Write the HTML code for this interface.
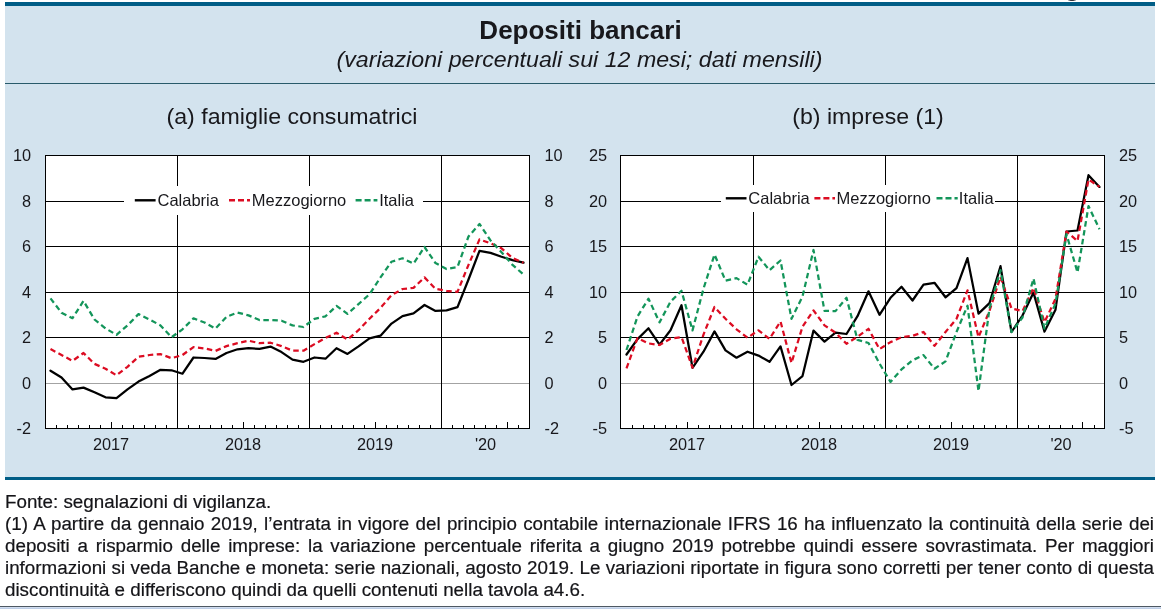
<!DOCTYPE html>
<html><head><meta charset="utf-8"><title>Depositi bancari</title>
<style>
html,body{margin:0;padding:0;background:#fff;}
body{width:1161px;height:609px;position:relative;overflow:hidden;font-family:'Liberation Sans', Arial, sans-serif;color:#18181c;}
#panel{position:absolute;left:5px;top:2px;width:1150px;height:478px;background:#d3e3ee;}
#topbar{position:absolute;left:5px;top:2px;width:1150px;height:4px;background:#005d86;}
#botbar{position:absolute;left:5px;top:477px;width:1150px;height:3px;background:#005d86;}
#hline{position:absolute;left:5px;top:83px;width:1150px;height:1px;background:#285a6a;}
svg{position:absolute;left:0;top:0;}
#gdesc{position:absolute;left:1068px;top:0;width:8px;height:1px;background:linear-gradient(to right,rgba(40,40,50,0.2),#303038 35%,#303038 65%,rgba(40,40,50,0.2));}
#notes{position:absolute;left:5px;top:491px;width:1149px;font-size:18.8px;line-height:22px;color:#141418;-webkit-text-stroke:0.2px #141418;}
#notes div{white-space:nowrap;}
#notes .j{text-align:justify;text-align-last:justify;white-space:nowrap;}
#bottom{position:absolute;left:0;top:606px;width:1161px;height:3px;background:linear-gradient(#dae5f5,#b4c6e0);border-top:1px solid #4e5862;box-sizing:border-box;}
</style></head><body>
<div id="panel"></div>
<div id="topbar"></div>
<div id="botbar"></div>
<div id="hline"></div>
<svg width="1161" height="609" viewBox="0 0 1161 609" font-family="'Liberation Sans', Arial, sans-serif" fill="#18181c">
<text x="580.5" y="39" text-anchor="middle" font-size="26" font-weight="bold">Depositi bancari</text>
<text x="579.5" y="66.5" text-anchor="middle" font-size="22" font-style="italic" textLength="486" lengthAdjust="spacingAndGlyphs">(variazioni percentuali sui 12 mesi; dati mensili)</text>
<text x="292" y="124" text-anchor="middle" font-size="22" textLength="251" lengthAdjust="spacingAndGlyphs">(a) famiglie consumatrici</text>
<text x="868" y="124" text-anchor="middle" font-size="22" textLength="151.5" lengthAdjust="spacingAndGlyphs">(b) imprese (1)</text>
<rect x="45" y="155" width="485" height="274" fill="#fff"/>
<rect x="45" y="201" width="484" height="1" fill="#000"/>
<rect x="45" y="246" width="484" height="1" fill="#000"/>
<rect x="45" y="292" width="484" height="1" fill="#000"/>
<rect x="45" y="337" width="484" height="1" fill="#000"/>
<rect x="45" y="383" width="484" height="1" fill="#a3a3a3"/>
<rect x="177" y="155" width="1" height="273" fill="#000"/>
<rect x="309" y="155" width="1" height="273" fill="#000"/>
<rect x="441" y="155" width="1" height="273" fill="#000"/>
<rect x="56" y="425" width="1" height="3" fill="#000"/>
<rect x="67" y="425" width="1" height="3" fill="#000"/>
<rect x="78" y="425" width="1" height="3" fill="#000"/>
<rect x="89" y="425" width="1" height="3" fill="#000"/>
<rect x="100" y="425" width="1" height="3" fill="#000"/>
<rect x="111" y="422" width="1" height="6" fill="#000"/>
<rect x="122" y="425" width="1" height="3" fill="#000"/>
<rect x="133" y="425" width="1" height="3" fill="#000"/>
<rect x="144" y="425" width="1" height="3" fill="#000"/>
<rect x="155" y="425" width="1" height="3" fill="#000"/>
<rect x="166" y="425" width="1" height="3" fill="#000"/>
<rect x="188" y="425" width="1" height="3" fill="#000"/>
<rect x="199" y="425" width="1" height="3" fill="#000"/>
<rect x="210" y="425" width="1" height="3" fill="#000"/>
<rect x="221" y="425" width="1" height="3" fill="#000"/>
<rect x="232" y="425" width="1" height="3" fill="#000"/>
<rect x="243" y="422" width="1" height="6" fill="#000"/>
<rect x="254" y="425" width="1" height="3" fill="#000"/>
<rect x="265" y="425" width="1" height="3" fill="#000"/>
<rect x="276" y="425" width="1" height="3" fill="#000"/>
<rect x="287" y="425" width="1" height="3" fill="#000"/>
<rect x="298" y="425" width="1" height="3" fill="#000"/>
<rect x="320" y="425" width="1" height="3" fill="#000"/>
<rect x="331" y="425" width="1" height="3" fill="#000"/>
<rect x="342" y="425" width="1" height="3" fill="#000"/>
<rect x="353" y="425" width="1" height="3" fill="#000"/>
<rect x="364" y="425" width="1" height="3" fill="#000"/>
<rect x="375" y="422" width="1" height="6" fill="#000"/>
<rect x="386" y="425" width="1" height="3" fill="#000"/>
<rect x="397" y="425" width="1" height="3" fill="#000"/>
<rect x="408" y="425" width="1" height="3" fill="#000"/>
<rect x="419" y="425" width="1" height="3" fill="#000"/>
<rect x="430" y="425" width="1" height="3" fill="#000"/>
<rect x="452" y="425" width="1" height="3" fill="#000"/>
<rect x="463" y="425" width="1" height="3" fill="#000"/>
<rect x="474" y="425" width="1" height="3" fill="#000"/>
<rect x="485" y="425" width="1" height="3" fill="#000"/>
<rect x="496" y="425" width="1" height="3" fill="#000"/>
<rect x="507" y="422" width="1" height="6" fill="#000"/>
<rect x="518" y="425" width="1" height="3" fill="#000"/>
<rect x="124" y="186" width="299" height="29" fill="#fff"/>
<polyline points="50.5,370.7 61.5,377.5 72.5,389.4 83.5,387.6 94.5,392.3 105.5,397.3 116.5,398.2 127.5,389.4 138.5,381.6 149.5,375.9 160.5,369.8 171.5,370.3 182.5,373.7 193.5,357.5 204.5,358.0 215.5,358.9 226.5,353.0 237.5,349.3 248.5,348.2 259.5,348.9 270.5,346.6 281.5,352.1 292.5,359.6 303.5,361.8 314.5,357.5 325.5,358.7 336.5,348.2 347.5,353.9 358.5,346.4 369.5,338.4 380.5,335.7 391.5,323.6 402.5,316.1 413.5,313.4 424.5,305.0 435.5,310.9 446.5,310.4 457.5,307.2 468.5,279.5 479.5,250.8 490.5,252.9 501.5,256.7 512.5,260.1 523.5,262.7" fill="none" stroke="#000" stroke-width="2.25" stroke-linejoin="round" stroke-linecap="round"/>
<polyline points="50.5,349.1 61.5,355.0 72.5,360.9 83.5,353.0 94.5,363.9 105.5,368.7 116.5,375.3 127.5,366.8 138.5,356.8 149.5,355.0 160.5,354.1 171.5,358.2 182.5,355.0 193.5,347.1 204.5,348.4 215.5,350.9 226.5,346.1 237.5,343.2 248.5,340.7 259.5,343.2 270.5,342.7 281.5,346.1 292.5,350.7 303.5,350.7 314.5,344.1 325.5,338.0 336.5,332.7 347.5,339.5 358.5,330.2 369.5,318.8 380.5,307.9 391.5,295.2 402.5,289.0 413.5,287.9 424.5,277.4 435.5,288.8 446.5,290.9 457.5,291.8 468.5,264.9 479.5,239.4 490.5,243.3 501.5,248.3 512.5,258.1 523.5,262.7" fill="none" stroke="#dc0c22" stroke-width="2.25" stroke-linejoin="round" stroke-linecap="butt" stroke-dasharray="5.5 3.5"/>
<polyline points="50.5,298.4 61.5,312.7 72.5,318.2 83.5,300.9 94.5,319.5 105.5,328.4 116.5,334.8 127.5,325.4 138.5,314.1 149.5,319.5 160.5,325.4 171.5,337.3 182.5,329.3 193.5,318.4 204.5,322.5 215.5,328.6 226.5,316.8 237.5,312.5 248.5,315.4 259.5,320.0 270.5,320.0 281.5,320.7 292.5,325.4 303.5,327.0 314.5,318.8 325.5,316.3 336.5,305.9 347.5,313.8 358.5,304.1 369.5,294.3 380.5,277.4 391.5,261.7 402.5,258.3 413.5,263.6 424.5,247.0 435.5,263.1 446.5,269.0 457.5,267.0 468.5,236.5 479.5,224.0 490.5,240.4 501.5,252.2 512.5,264.9 523.5,274.5" fill="none" stroke="#13955a" stroke-width="2.25" stroke-linejoin="round" stroke-linecap="butt" stroke-dasharray="5.5 3.5"/>
<line x1="134.8" x2="155.6" y1="200.3" y2="200.3" stroke="#000" stroke-width="2.4"/>
<text x="157.5" y="205.8" font-size="16.5">Calabria</text>
<line x1="229" x2="250" y1="200.3" y2="200.3" stroke="#dc0c22" stroke-width="2.4" stroke-dasharray="6 3"/>
<text x="251.8" y="205.8" font-size="16.5">Mezzogiorno</text>
<line x1="355.6" x2="377.4" y1="200.3" y2="200.3" stroke="#13955a" stroke-width="2.4" stroke-dasharray="6 3"/>
<text x="379.2" y="205.8" font-size="16.5">Italia</text>
<rect x="45.5" y="155.5" width="484" height="273" fill="none" stroke="#000" stroke-width="1"/>
<text x="31" y="434.2" text-anchor="end" font-size="16.3">-2</text>
<text x="544.5" y="434.2" font-size="16.3">-2</text>
<text x="31" y="389.2" text-anchor="end" font-size="16.3">0</text>
<text x="544.5" y="389.2" font-size="16.3">0</text>
<text x="31" y="343.2" text-anchor="end" font-size="16.3">2</text>
<text x="544.5" y="343.2" font-size="16.3">2</text>
<text x="31" y="298.2" text-anchor="end" font-size="16.3">4</text>
<text x="544.5" y="298.2" font-size="16.3">4</text>
<text x="31" y="252.2" text-anchor="end" font-size="16.3">6</text>
<text x="544.5" y="252.2" font-size="16.3">6</text>
<text x="31" y="207.2" text-anchor="end" font-size="16.3">8</text>
<text x="544.5" y="207.2" font-size="16.3">8</text>
<text x="31" y="161.2" text-anchor="end" font-size="16.3">10</text>
<text x="544.5" y="161.2" font-size="16.3">10</text>
<text x="111.0" y="449.8" text-anchor="middle" font-size="16.3">2017</text>
<text x="243.0" y="449.8" text-anchor="middle" font-size="16.3">2018</text>
<text x="375.0" y="449.8" text-anchor="middle" font-size="16.3">2019</text>
<text x="485.5" y="449.8" text-anchor="middle" font-size="16.3">'20</text>
<rect x="620" y="155" width="485" height="274" fill="#fff"/>
<rect x="620" y="201" width="484" height="1" fill="#000"/>
<rect x="620" y="246" width="484" height="1" fill="#000"/>
<rect x="620" y="292" width="484" height="1" fill="#000"/>
<rect x="620" y="337" width="484" height="1" fill="#000"/>
<rect x="620" y="383" width="484" height="1" fill="#a3a3a3"/>
<rect x="753" y="155" width="1" height="273" fill="#000"/>
<rect x="885" y="155" width="1" height="273" fill="#000"/>
<rect x="1017" y="155" width="1" height="273" fill="#000"/>
<rect x="632" y="425" width="1" height="3" fill="#000"/>
<rect x="643" y="425" width="1" height="3" fill="#000"/>
<rect x="654" y="425" width="1" height="3" fill="#000"/>
<rect x="665" y="425" width="1" height="3" fill="#000"/>
<rect x="676" y="425" width="1" height="3" fill="#000"/>
<rect x="687" y="422" width="1" height="6" fill="#000"/>
<rect x="698" y="425" width="1" height="3" fill="#000"/>
<rect x="709" y="425" width="1" height="3" fill="#000"/>
<rect x="720" y="425" width="1" height="3" fill="#000"/>
<rect x="731" y="425" width="1" height="3" fill="#000"/>
<rect x="742" y="425" width="1" height="3" fill="#000"/>
<rect x="764" y="425" width="1" height="3" fill="#000"/>
<rect x="775" y="425" width="1" height="3" fill="#000"/>
<rect x="786" y="425" width="1" height="3" fill="#000"/>
<rect x="797" y="425" width="1" height="3" fill="#000"/>
<rect x="808" y="425" width="1" height="3" fill="#000"/>
<rect x="819" y="422" width="1" height="6" fill="#000"/>
<rect x="830" y="425" width="1" height="3" fill="#000"/>
<rect x="841" y="425" width="1" height="3" fill="#000"/>
<rect x="852" y="425" width="1" height="3" fill="#000"/>
<rect x="863" y="425" width="1" height="3" fill="#000"/>
<rect x="874" y="425" width="1" height="3" fill="#000"/>
<rect x="896" y="425" width="1" height="3" fill="#000"/>
<rect x="907" y="425" width="1" height="3" fill="#000"/>
<rect x="918" y="425" width="1" height="3" fill="#000"/>
<rect x="929" y="425" width="1" height="3" fill="#000"/>
<rect x="940" y="425" width="1" height="3" fill="#000"/>
<rect x="951" y="422" width="1" height="6" fill="#000"/>
<rect x="962" y="425" width="1" height="3" fill="#000"/>
<rect x="973" y="425" width="1" height="3" fill="#000"/>
<rect x="984" y="425" width="1" height="3" fill="#000"/>
<rect x="995" y="425" width="1" height="3" fill="#000"/>
<rect x="1006" y="425" width="1" height="3" fill="#000"/>
<rect x="1028" y="425" width="1" height="3" fill="#000"/>
<rect x="1038" y="425" width="1" height="3" fill="#000"/>
<rect x="1049" y="425" width="1" height="3" fill="#000"/>
<rect x="1060" y="425" width="1" height="3" fill="#000"/>
<rect x="1072" y="425" width="1" height="3" fill="#000"/>
<rect x="1082" y="422" width="1" height="6" fill="#000"/>
<rect x="1094" y="425" width="1" height="3" fill="#000"/>
<rect x="721" y="185" width="274" height="27" fill="#fff"/>
<polyline points="626.5,354.5 637.5,339.1 648.5,328.3 659.5,344.6 670.5,330.2 681.5,305.2 692.5,367.8 703.5,351.7 714.5,331.4 725.5,350.4 736.5,357.7 747.5,351.7 758.5,355.6 769.5,361.8 780.5,346.4 791.5,385.0 802.5,376.1 813.5,330.6 824.5,341.6 835.5,332.7 846.5,334.0 857.5,316.2 868.5,291.3 879.5,314.8 890.5,297.8 901.5,286.8 912.5,300.5 923.5,284.7 934.5,282.8 945.5,297.3 956.5,288.1 967.5,258.1 978.5,313.6 989.5,303.1 1000.5,266.2 1011.5,332.0 1022.5,315.5 1033.5,292.6 1044.5,331.6 1055.5,309.7 1066.5,231.5 1077.5,230.5 1088.5,175.2 1099.5,186.9" fill="none" stroke="#000" stroke-width="2.25" stroke-linejoin="round" stroke-linecap="round"/>
<polyline points="626.5,368.3 637.5,338.1 648.5,343.4 659.5,345.0 670.5,338.7 681.5,337.1 692.5,367.7 703.5,334.6 714.5,307.0 725.5,318.8 736.5,329.3 747.5,337.8 758.5,330.3 769.5,338.9 780.5,321.5 791.5,363.0 802.5,326.7 813.5,310.4 824.5,325.4 835.5,332.7 846.5,343.8 857.5,336.7 868.5,328.8 879.5,349.1 890.5,342.1 901.5,337.2 912.5,335.9 923.5,332.0 934.5,345.9 945.5,332.0 956.5,318.8 967.5,290.3 978.5,337.2 989.5,310.9 1000.5,276.8 1011.5,308.4 1022.5,311.1 1033.5,287.9 1044.5,322.2 1055.5,298.8 1066.5,231.5 1077.5,241.0 1088.5,179.4 1099.5,186.9" fill="none" stroke="#dc0c22" stroke-width="2.25" stroke-linejoin="round" stroke-linecap="butt" stroke-dasharray="5.5 3.5"/>
<polyline points="626.5,350.0 637.5,316.5 648.5,298.7 659.5,322.4 670.5,301.7 681.5,290.8 692.5,330.4 703.5,288.6 714.5,254.5 725.5,280.7 736.5,278.1 747.5,284.7 758.5,256.7 769.5,270.2 780.5,260.5 791.5,318.8 802.5,296.5 813.5,250.0 824.5,310.9 835.5,311.1 846.5,297.8 857.5,339.9 868.5,343.0 879.5,363.5 890.5,381.9 901.5,369.4 912.5,360.3 923.5,355.1 934.5,368.7 945.5,361.4 956.5,332.0 967.5,305.7 978.5,391.1 989.5,308.3 1000.5,270.2 1011.5,332.0 1022.5,317.5 1033.5,278.6 1044.5,328.5 1055.5,303.6 1066.5,234.2 1077.5,272.4 1088.5,206.1 1099.5,229.2" fill="none" stroke="#13955a" stroke-width="2.25" stroke-linejoin="round" stroke-linecap="butt" stroke-dasharray="5.5 3.5"/>
<line x1="725.8" x2="746.5" y1="198.3" y2="198.3" stroke="#000" stroke-width="2.4"/>
<text x="748.3" y="203.9" font-size="16.5">Calabria</text>
<line x1="814.4" x2="835" y1="198.3" y2="198.3" stroke="#dc0c22" stroke-width="2.4" stroke-dasharray="6 3"/>
<text x="836.5" y="203.9" font-size="16.5">Mezzogiorno</text>
<line x1="936.5" x2="957.7" y1="198.3" y2="198.3" stroke="#13955a" stroke-width="2.4" stroke-dasharray="6 3"/>
<text x="958.8" y="203.9" font-size="16.5">Italia</text>
<rect x="620.5" y="155.5" width="484" height="273" fill="none" stroke="#000" stroke-width="1"/>
<text x="607" y="434.2" text-anchor="end" font-size="16.3">-5</text>
<text x="1119" y="434.2" font-size="16.3">-5</text>
<text x="607" y="389.2" text-anchor="end" font-size="16.3">0</text>
<text x="1119" y="389.2" font-size="16.3">0</text>
<text x="607" y="343.2" text-anchor="end" font-size="16.3">5</text>
<text x="1119" y="343.2" font-size="16.3">5</text>
<text x="607" y="298.2" text-anchor="end" font-size="16.3">10</text>
<text x="1119" y="298.2" font-size="16.3">10</text>
<text x="607" y="252.2" text-anchor="end" font-size="16.3">15</text>
<text x="1119" y="252.2" font-size="16.3">15</text>
<text x="607" y="207.2" text-anchor="end" font-size="16.3">20</text>
<text x="1119" y="207.2" font-size="16.3">20</text>
<text x="607" y="161.2" text-anchor="end" font-size="16.3">25</text>
<text x="1119" y="161.2" font-size="16.3">25</text>
<text x="687.0" y="449.8" text-anchor="middle" font-size="16.3">2017</text>
<text x="819.0" y="449.8" text-anchor="middle" font-size="16.3">2018</text>
<text x="951.0" y="449.8" text-anchor="middle" font-size="16.3">2019</text>
<text x="1061" y="449.8" text-anchor="middle" font-size="16.3">'20</text>
</svg>
<div id="notes">
<div>Fonte: segnalazioni di vigilanza.</div>
<div class="j">(1) A partire da gennaio 2019, l’entrata in vigore del principio contabile internazionale IFRS 16 ha influenzato la continuità della serie dei</div>
<div class="j">depositi a risparmio delle imprese: la variazione percentuale riferita a giugno 2019 potrebbe quindi essere sovrastimata. Per maggiori</div>
<div class="j">informazioni si veda Banche e moneta: serie nazionali, agosto 2019. Le variazioni riportate in figura sono corretti per tener conto di questa</div>
<div>discontinuità e differiscono quindi da quelli contenuti nella tavola a4.6.</div>
</div>
<div id="bottom"></div>
<div id="gdesc"></div>
</body></html>
